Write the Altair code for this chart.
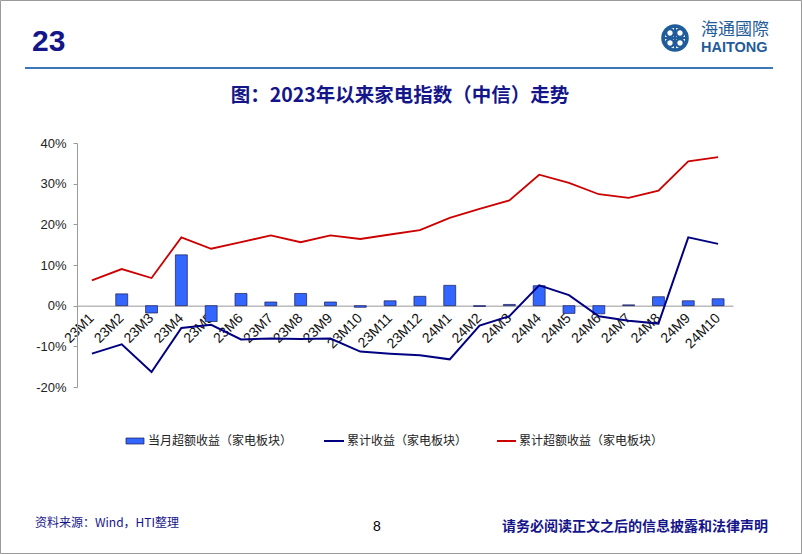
import altair as alt
import pandas as pd

# ---------------- data ----------------
categories = ["23M1", "23M2", "23M3", "23M4", "23M5", "23M6", "23M7", "23M8", "23M9", "23M10",
              "23M11", "23M12", "24M1", "24M2", "24M3", "24M4", "24M5", "24M6", "24M7", "24M8",
              "24M9", "24M10"]
monthly_excess = [None, 2.9, -1.8, 12.5, -3.9, 3.0, 0.9, 3.0, 0.9, -0.4, 1.2, 2.3,
                  5.0, -0.2, 0.3, 4.9, -1.9, -2.0, 0.2, 2.2, 1.2, 1.7]
cum_return = [-11.8, -9.5, -16.3, -5.5, -4.7, -8.3, -8.1, -8.2, -8.1, -11.3, -11.8, -12.2,
              -13.2, -4.9, -2.6, 5.0, 2.6, -2.6, -3.7, -4.4, 16.8, 15.2]
cum_excess = [6.2, 9.0, 6.8, 16.8, 14.0, 15.6, 17.3, 15.6, 17.3, 16.4, 17.5, 18.6,
              21.6, 23.8, 25.9, 32.2, 30.2, 27.4, 26.5, 28.3, 35.5, 36.5]
y_ticks = [-20, -10, 0, 10, 20, 30, 40]

legend_labels = ["当月超额收益（家电板块）", "累计收益（家电板块）", "累计超额收益（家电板块）"]
title_text = "图：2023年以来家电指数（中信）走势"
page_no = "23"
logo_cn = "海通國際"
logo_en = "HAITONG"
source_text = "资料来源：Wind，HTI整理"
page_num = "8"
disclaimer = "请务必阅读正文之后的信息披露和法律声明"

df = pd.DataFrame({"cat": categories, "monthly": monthly_excess,
                   "cum": cum_return, "cumex": cum_excess})

W, H = 656, 244
NAVY = "#15158a"
CJK = "Noto Sans CJK SC"
AX = "#9a9a9a"

x_enc = alt.X("cat:N", sort=categories,
              scale=alt.Scale(paddingInner=0, paddingOuter=0),
              axis=alt.Axis(title=None, offset=-H / 3.0, labelAngle=315,
                            labelAlign="right", labelBaseline="middle",
                            ticks=False, domainColor=AX,
                            labelFont="Liberation Sans",
                            labelFontSize=14, labelColor="#111",
                            labelPadding=10, labelOverlap=False))
y_axis = alt.Axis(title=None, values=y_ticks, labelExpr="datum.value + '%'",
                  grid=False, tickSize=4, domainColor=AX, tickColor=AX,
                  labelFont="Liberation Sans", labelFontSize=13,
                  labelColor="#222", labelPadding=7)
y_scale = alt.Scale(domain=[-20, 40], nice=False)

base = alt.Chart(df)
bars = base.mark_bar(width=alt.RelativeBandSize(0.4), color="#3366ff",
                     stroke="#1a1a50", strokeWidth=0.7).encode(
    x=x_enc, y=alt.Y("monthly:Q", scale=y_scale, axis=y_axis))
line_blue = base.mark_line(color="#000080", strokeWidth=2).encode(
    x=x_enc, y=alt.Y("cum:Q", scale=y_scale, axis=y_axis))
line_red = base.mark_line(color="#cc0000", strokeWidth=1.8).encode(
    x=x_enc, y=alt.Y("cumex:Q", scale=y_scale, axis=y_axis))

# origin of plot area is (77, 143) in page coordinates
ox, oy = 77, 143


def one():
    return alt.Chart(pd.DataFrame({"k": [0]}))


def txt(text, x, y, size, color="#000", font=CJK, weight="normal", align="left"):
    return one().mark_text(text=text, fontSize=size, color=color, font=font,
                           fontWeight=weight, align=align, baseline="middle").encode(
        x=alt.value(x - ox), y=alt.value(y - oy))


deco = []
# border
deco.append(one().mark_rect(fill=None, stroke="#9a9a9a", strokeWidth=1).encode(
    x=alt.value(0.5 - ox), x2=alt.value(801.5 - ox),
    y=alt.value(0.5 - oy), y2=alt.value(553.5 - oy)))
# header line
deco.append(one().mark_rule(color="#3a78b8", strokeWidth=2).encode(
    x=alt.value(25 - ox), x2=alt.value(773 - ox), y=alt.value(68 - oy)))
# page number header
deco.append(one().mark_text(text=page_no, fontSize=30, color=NAVY,
                            font="Liberation Sans", fontWeight="bold",
                            align="left", baseline="alphabetic").encode(
    x=alt.value(32 - ox), y=alt.value(51 - oy)))
# logo
LOGO = "#1f5c99"
deco.append(one().mark_point(shape="circle", filled=True, color=LOGO, size=760, opacity=1).encode(
    x=alt.value(675 - ox), y=alt.value(38 - oy)))
deco.append(one().mark_point(shape="circle", filled=True, color="white", size=420, opacity=1).encode(
    x=alt.value(675 - ox), y=alt.value(38 - oy)))
for dx, dy in [(-5, -5), (5, -5), (-5, 5), (5, 5)]:
    deco.append(one().mark_point(shape="circle", filled=False, color=LOGO, size=60,
                                 strokeWidth=2.4, opacity=1).encode(
        x=alt.value(675 + dx - ox), y=alt.value(38 + dy - oy)))
deco.append(one().mark_rule(color=LOGO, strokeWidth=2).encode(
    x=alt.value(664 - ox), x2=alt.value(686 - ox), y=alt.value(38 - oy)))
deco.append(one().mark_rule(color=LOGO, strokeWidth=2).encode(
    x=alt.value(675 - ox), y=alt.value(27 - oy), y2=alt.value(49 - oy)))
deco.append(txt(logo_cn, 701, 30, 17, color=LOGO))
deco.append(txt(logo_en, 701, 48, 14.5, color=LOGO, font="Liberation Sans", weight="bold"))
# title
deco.append(txt(title_text, 400, 96, 19.5, color=NAVY, weight="bold", align="center"))
# legend
deco.append(one().mark_rect(color="#3366ff", stroke="#1a1a50", strokeWidth=0.7).encode(
    x=alt.value(126 - ox), x2=alt.value(144 - ox),
    y=alt.value(438 - oy), y2=alt.value(444 - oy)))
deco.append(txt(legend_labels[0], 148, 441, 12, color="#222"))
deco.append(one().mark_rule(color="#000080", strokeWidth=2).encode(
    x=alt.value(324 - ox), x2=alt.value(344 - ox), y=alt.value(441 - oy)))
deco.append(txt(legend_labels[1], 347, 441, 12, color="#222"))
deco.append(one().mark_rule(color="#cc0000", strokeWidth=2).encode(
    x=alt.value(497 - ox), x2=alt.value(516 - ox), y=alt.value(441 - oy)))
deco.append(txt(legend_labels[2], 519, 441, 12, color="#222"))
# footer
deco.append(txt(source_text, 35, 523, 12, color=NAVY))
deco.append(txt(page_num, 377, 527, 14, color="#000", font="Liberation Sans", align="center"))
deco.append(txt(disclaimer, 768, 527, 14, color=NAVY, weight="bold", align="right"))

chart = alt.layer(bars, line_blue, line_red, *deco).properties(
    width=W, height=H, autosize="none",
    padding={"left": ox, "top": oy, "right": 802 - ox - W, "bottom": 554 - oy - H},
    background="white",
).configure_view(strokeWidth=0)

chart.save("out.html", embed_options={"renderer": "svg", "actions": False})
